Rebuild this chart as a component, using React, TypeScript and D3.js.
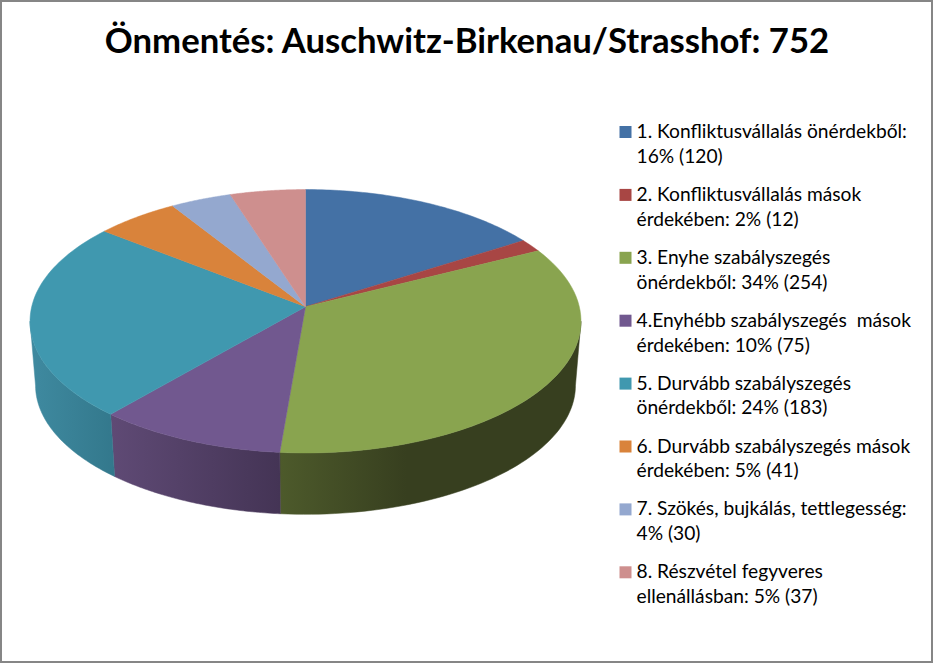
import * as d3 from 'd3';

const titleText = 'Önmentés: Auschwitz-Birkenau/Strasshof: 752';

// counts
const counts = [120, 12, 254, 75, 183, 41, 30, 37];
const legendLines = [
  ['1. Konfliktusvállalás önérdekből:', '16% (120)'],
  ['2. Konfliktusvállalás mások', 'érdekében: 2% (12)'],
  ['3. Enyhe szabályszegés', 'önérdekből: 34% (254)'],
  ['4.Enyhébb szabályszegés  mások', 'érdekében: 10% (75)'],
  ['5. Durvább szabályszegés', 'önérdekből: 24% (183)'],
  ['6. Durvább szabályszegés mások', 'érdekében: 5% (41)'],
  ['7. Szökés, bujkálás, tettlegesség:', '4% (30)'],
  ['8. Részvétel fegyveres', 'ellenállásban: 5% (37)'],
];
const colors = ['#4471a5', '#a84644', '#89a44f', '#71588f', '#4098af', '#d9833b', '#94a8cf', '#ce8f8e'];

// side wall shading, left edge to right edge of each slice
const wallStops: Record<number, [string, number][]> = {
  2: [['#4d5a2b', 0], ['#373f1f', 0.42], ['#373f1f', 1]],
  3: [['#5f4a75', 0], ['#443455', 1]],
  4: [['#3f8aa0', 0], ['#33788c', 1]],
};

const width = 933;
const height = 663;
const font = 'Lato, "Open Sans", sans-serif';

// pie geometry: a tilted circle under a small perspective
const cx = 305.5;
const cy = 306.7;
const rx = 273.8;
const ry = 130.1;
const persp = 0.1104;
const baseScale = 0.98;
const baseCy = 371;

const project = (angle: number, base = false): [number, number] => {
  const u = Math.sin(angle);
  const v = -Math.cos(angle);
  const w = 1 - persp * v;
  const x = (rx * u) / w;
  const y = (ry * v) / w;
  return base ? [cx + x * baseScale, baseCy + y * baseScale] : [cx + x, cy + y];
};

const pie = d3.pie<number>().sort(null).value(d => d);
const arcs = pie(counts);
const line = d3.line();

const sample = (a0: number, a1: number) => d3.range(0, 61).map(i => a0 + ((a1 - a0) * i) / 60);

const topPath = (a0: number, a1: number) =>
  line([[cx, cy], ...sample(a0, a1).map(a => project(a))]) + 'Z';

// visible side of the disc lies between the two silhouette tangents
const sideStart = Math.acos(-persp);
const sideEnd = 2 * Math.PI - sideStart;

const walls = arcs
  .map((d, i) => ({ i, a0: Math.max(d.startAngle, sideStart), a1: Math.min(d.endAngle, sideEnd) }))
  .filter(d => d.a1 > d.a0);

const wallPath = (a0: number, a1: number) =>
  line([...sample(a0, a1).map(a => project(a)), ...sample(a1, a0).map(a => project(a, true))]) + 'Z';

export default function App() {
  return (
    <svg
      width={width}
      height={height}
      viewBox={`0 0 ${width} ${height}`}
      style={{ position: 'absolute', left: 0, top: 0, background: '#fff' }}
    >
      <defs>
        {walls.map(w => {
          const xs = [project(w.a0)[0], project(w.a1)[0], project(w.a0, true)[0], project(w.a1, true)[0]];
          return (
            <linearGradient
              key={w.i}
              id={`wall-${w.i}`}
              gradientUnits="userSpaceOnUse"
              x1={d3.min(xs)}
              x2={d3.max(xs)}
              y1={0}
              y2={0}
            >
              {(wallStops[w.i] || []).map(([c, o]) => (
                <stop key={o} offset={o} stopColor={c} />
              ))}
            </linearGradient>
          );
        })}
      </defs>

      <rect x={1} y={1} width={width - 2} height={height - 2} fill="#fff" stroke="#868686" strokeWidth={2} />

      <text x={467} y={53} textAnchor="middle" fontFamily={font} fontWeight={700} fontSize={34.7} fill="#000">
        {titleText}
      </text>

      {walls.map(w => (
        <path key={w.i} d={wallPath(w.a0, w.a1)} fill={`url(#wall-${w.i})`} stroke={`url(#wall-${w.i})`} strokeWidth={0.5} />
      ))}
      {arcs.map((d, i) => (
        <path key={i} d={topPath(d.startAngle, d.endAngle)} fill={colors[i]} stroke={colors[i]} strokeWidth={0.5} />
      ))}

      {legendLines.map((lines, i) => {
        const y = 138 + i * 62.9;
        return (
          <g key={i} transform={`translate(619.5,${y})`}>
            <rect x={0} y={-12} width={12} height={12} fill={colors[i]} />
            {lines.map((t, j) => (
              <text key={j} x={17} y={j * 24.9} fontFamily={font} fontSize={19.2} fill="#000" xmlSpace="preserve">
                {t}
              </text>
            ))}
          </g>
        );
      })}
    </svg>
  );
}
